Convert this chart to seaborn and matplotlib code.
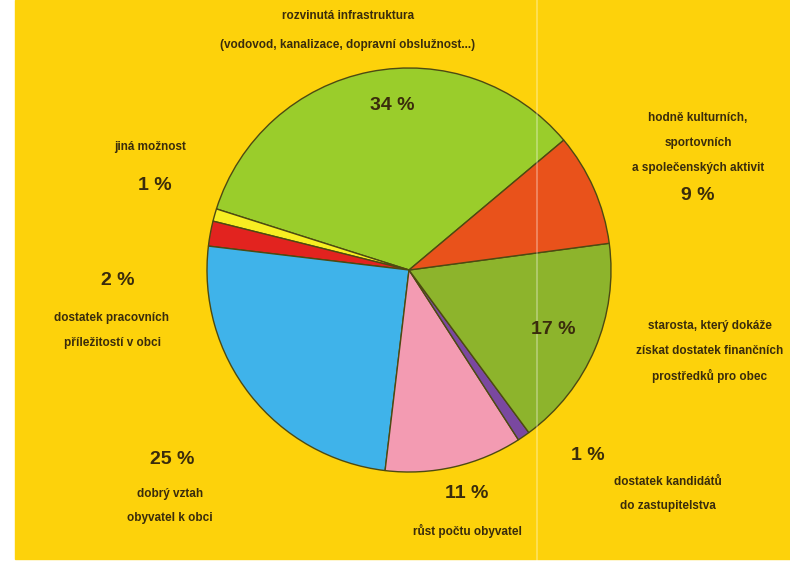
import matplotlib
matplotlib.use("Agg")
import matplotlib.pyplot as plt
from matplotlib.patches import Rectangle
import seaborn as sns

# ─────────────────────────────────────────────
# DATA (order = counter-clockwise from the start angle)
# ─────────────────────────────────────────────
categories = [
    "rozvinutá infrastruktura",
    "jiná možnost",
    "dostatek pracovních příležitostí v obci",
    "dobrý vztah obyvatel k obci",
    "růst počtu obyvatel",
    "dostatek kandidátů do zastupitelstva",
    "starosta, který dokáže získat dostatek finančních prostředků pro obec",
    "hodně kulturních, sportovních a společenských aktivit",
]
shares = [34, 1, 2, 25, 11, 1, 17, 9]
slice_colors = ["#9acd2b", "#f7ee22", "#e2231f", "#3fb3ea",
                "#f39bb2", "#7a48a0", "#8db42c", "#e9521b"]

sns.set_theme(style="white")
plt.rcParams["font.family"] = ["Liberation Sans", "DejaVu Sans"]

W, H = 790, 561
BG = "#fdd20b"
INK = "#3a2c0c"

fig = plt.figure(figsize=(W / 100, H / 100), dpi=100)
fig.patch.set_facecolor("white")
ax = fig.add_axes([0, 0, 1, 1])

# yellow page
ax.add_patch(Rectangle((15, 2), W - 15, H - 2, color=BG, zorder=0))

# pie, centre given in pixel coords (y measured from bottom)
ax.pie(shares, colors=slice_colors, startangle=40, counterclock=True,
       center=(409, H - 270), radius=202, frame=True,
       wedgeprops=dict(edgecolor="#4d4a12", linewidth=1.0))
ax.set_xlim(0, W)
ax.set_ylim(0, H)
ax.set_aspect("equal")
ax.axis("off")

# fold line of the scanned page
ax.plot([537, 537], [0, H], color="white", alpha=0.35, lw=1.2, zorder=5)


def label(x, y, s, size=8.5, bold=True):
    ax.text(x, H - y, s, ha="center", va="center", fontsize=size,
            fontweight="bold" if bold else "normal", color=INK, zorder=6)


# percentages
pct = 14
label(392, 105, "34 %", pct)
label(155, 185, "1 %", pct)
label(118, 280, "2 %", pct)
label(172, 460, "25 %", pct)
label(467, 493, "11 %", pct)
label(588, 455, "1 %", pct)
label(553, 330, "17 %", pct)
label(698, 195, "9 %", pct)

# descriptions
label(348, 16, "rozvinutá infrastruktura")
label(348, 45, "(vodovod, kanalizace, dopravní obslužnost...)")
label(150, 147, "jiná možnost")
label(112, 318, "dostatek pracovních")
label(112, 343, "příležitostí v obci")
label(170, 494, "dobrý vztah")
label(170, 518, "obyvatel k obci")
label(467, 531, "růst počtu obyvatel")
label(668, 482, "dostatek kandidátů")
label(668, 506, "do zastupitelstva")
label(710, 326, "starosta, který dokáže")
label(710, 351, "získat dostatek finančních")
label(710, 376, "prostředků pro obec")
label(698, 118, "hodně kulturních,")
label(698, 143, "sportovních")
label(698, 168, "a společenských aktivit")

plt.savefig("out.png", dpi=100, facecolor=fig.get_facecolor())
